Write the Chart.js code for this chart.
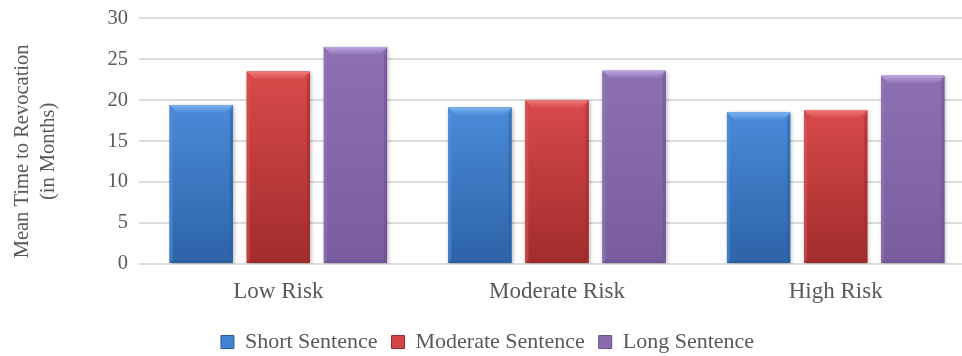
<!DOCTYPE html>
<html>
<head>
<meta charset="utf-8">
<script src="https://cdn.jsdelivr.net/npm/chart.js@4/dist/chart.umd.min.js"></script>
<style>
  html, body { margin: 0; padding: 0; background: #ffffff; overflow: hidden; }
  #wrap { width: 975px; height: 368px; position: relative; top: -5px; }
</style>
</head>
<body>
<div id="wrap"><canvas id="c"></canvas></div>
<script>
const categories = ["Low Risk", "Moderate Risk", "High Risk"];
const seriesNames = ["Short Sentence", "Moderate Sentence", "Long Sentence"];
const shortSentence = [19.4, 19.1, 18.5];
const moderateSentence = [23.5, 20.0, 18.8];
const longSentence = [26.5, 23.6, 23.0];
const yTicks = [0, 5, 10, 15, 20, 25, 30];
const yTitle = ["Mean Time to Revocation    ", "(in Months)    "];

const palette = [
  { base: "#4283d0", top: "#4a8bd8", bottom: "#2d63a7", bevel: "#7ab2ee", left: "#5090dc", right: "#2b5e9e" },
  { base: "#d34444", top: "#d84a4a", bottom: "#a22c2c", bevel: "#f27c7c", left: "#dc5555", right: "#9c2b2b" },
  { base: "#8a6cae", top: "#8d70b2", bottom: "#7a5d9e", bevel: "#bca4de", left: "#9679b9", right: "#6c5090" }
];

const FONT = "'Liberation Serif', 'Times New Roman', serif";
const TXT = "#595959";
const FS = 20.5;

const bevelPlugin = {
  id: "bevel",
  beforeDatasetDraw(chart) {
    const ctx = chart.ctx;
    ctx.save();
    ctx.shadowColor = "rgba(0,0,0,0.30)";
    ctx.shadowBlur = 4;
    ctx.shadowOffsetX = 1;
    ctx.shadowOffsetY = 1;
  },
  afterDatasetDraw(chart, args) {
    const ctx = chart.ctx;
    ctx.restore();
    const p = palette[args.index];
    args.meta.data.forEach(bar => {
      const L = bar.x - bar.width / 2;
      const R = bar.x + bar.width / 2;
      const T = Math.min(bar.y, bar.base);
      const B = Math.max(bar.y, bar.base);
      const b = 8;
      const s = 3;
      ctx.save();
      const g = ctx.createLinearGradient(0, T, 0, B);
      g.addColorStop(0, p.top);
      g.addColorStop(1, p.bottom);
      ctx.fillStyle = g;
      ctx.fillRect(L, T, R - L, B - T);
      ctx.globalAlpha = 0.55;
      ctx.fillStyle = p.left;
      ctx.beginPath();
      ctx.moveTo(L, T); ctx.lineTo(L + s, T + b); ctx.lineTo(L + s, B - s); ctx.lineTo(L, B); ctx.closePath();
      ctx.fill();
      ctx.fillStyle = p.right;
      ctx.beginPath();
      ctx.moveTo(R, T); ctx.lineTo(R - s, T + b); ctx.lineTo(R - s, B - s); ctx.lineTo(R, B); ctx.closePath();
      ctx.fill();
      ctx.beginPath();
      ctx.moveTo(L, B); ctx.lineTo(L + s, B - s); ctx.lineTo(R - s, B - s); ctx.lineTo(R, B); ctx.closePath();
      ctx.fill();
      ctx.globalAlpha = 1;
      const tg = ctx.createLinearGradient(0, T, 0, T + b);
      tg.addColorStop(0, p.bevel);
      tg.addColorStop(1, p.top);
      ctx.fillStyle = tg;
      ctx.beginPath();
      ctx.moveTo(L, T); ctx.lineTo(R, T); ctx.lineTo(R - b, T + b); ctx.lineTo(L + b, T + b); ctx.closePath();
      ctx.fill();
      ctx.restore();
    });
  }
};

const datasets = [shortSentence, moderateSentence, longSentence].map((vals, i) => ({
  label: seriesNames[i],
  data: vals,
  backgroundColor: palette[i].base,
  borderWidth: 0,
  categoryPercentage: 0.83,
  barPercentage: 0.82
}));

new Chart(document.getElementById("c"), {
  type: "bar",
  data: { labels: categories, datasets },
  plugins: [bevelPlugin],
  options: {
    responsive: true,
    maintainAspectRatio: false,
    animation: false,
    layout: { padding: { left: 0, right: 0, top: 0, bottom: 0 } },
    plugins: {
      tooltip: { enabled: false },
      legend: {
        position: "bottom",
        labels: {
          font: { family: FONT, size: 22 },
          color: TXT,
          boxWidth: 13,
          boxHeight: 13,
          padding: 14,
          generateLabels(chart) {
            return chart.data.datasets.map((d, i) => ({
              text: d.label,
              fillStyle: palette[i].base,
              strokeStyle: palette[i].right,
              lineWidth: 1,
              fontColor: TXT,
              datasetIndex: i,
              hidden: false
            }));
          }
        }
      }
    },
    scales: {
      x: {
        afterFit(axis) { axis.height = 53; },
        grid: { display: false, drawTicks: false },
        border: { display: false },
        ticks: { font: { family: FONT, size: 23 }, color: TXT, padding: 14 }
      },
      y: {
        min: 0,
        max: 30,
        afterFit(axis) { axis.width = 139; },
        afterBuildTicks(axis) { axis.ticks = yTicks.map(v => ({ value: v })); },
        grid: { color: "#dcdcdc", lineWidth: 2, drawTicks: false },
        border: { display: false },
        ticks: { font: { family: FONT, size: FS }, color: TXT, padding: 11 },
        title: {
          display: true,
          text: yTitle,
          font: { family: FONT, size: FS, lineHeight: 1.3 },
          color: TXT,
          padding: { top: 9, bottom: 0 }
        }
      }
    }
  }
});
</script>
</body>
</html>
